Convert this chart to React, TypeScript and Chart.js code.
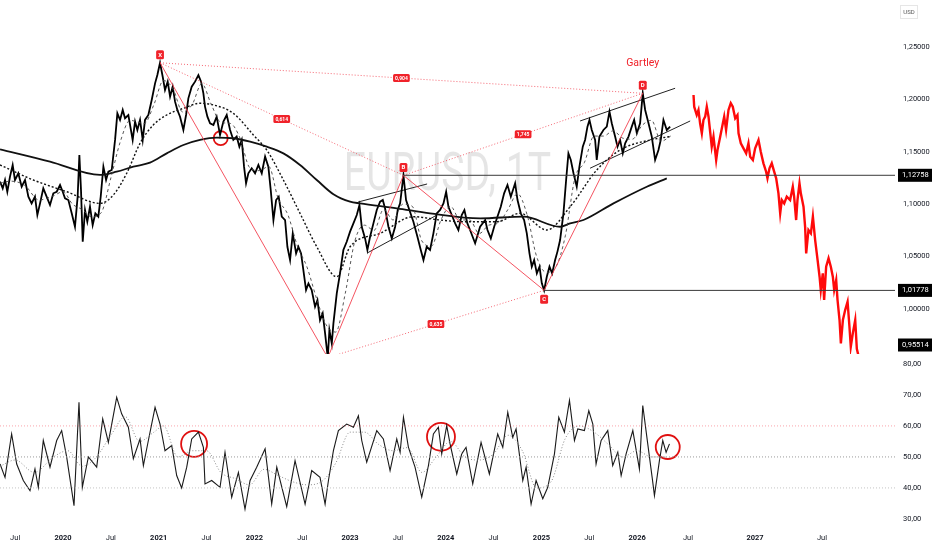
import { useEffect, useRef } from 'react';
import { Chart, registerables } from 'chart.js';

Chart.register(...registerables);

const FONT = 'Roboto, "Noto Sans", "DejaVu Sans", sans-serif';

// ---------- time axis (decimal years) ----------
// After the last traded bar TradingView's future area counts calendar days, so it is wider.
const LAST_BAR = 2026.42;
const FUTURE_STRETCH = 1.4;
const pos = (d: number) => (d <= LAST_BAR ? d : LAST_BAR + (d - LAST_BAR) * FUTURE_STRETCH);
const VIEW_START = 2019.3415;
const VIEW_END = 2028.045;

const timeTickDates = [2019.5, 2020, 2020.5, 2021, 2021.5, 2022, 2022.5, 2023, 2023.5, 2024, 2024.5, 2025, 2025.5, 2026, 2026.5, 2027, 2027.5];
const timeTickLabels = ['Jul', '2020', 'Jul', '2021', 'Jul', '2022', 'Jul', '2023', 'Jul', '2024', 'Jul', '2025', 'Jul', '2026', 'Jul', '2027', 'Jul'];

const priceTicks = [1.0, 1.05, 1.1, 1.15, 1.2, 1.25];
const rsiTicks = [30, 40, 50, 60, 70, 80];
const PRICE_MIN = 0.9571;
const PRICE_MAX = 1.2948;
const RSI_MIN = 27.4;
const RSI_MAX = 83.2;

// ---------- EURUSD daily ----------
const eurusd: [number, number][] = [
  [2019.342, 1.1215], [2019.37, 1.1151], [2019.394, 1.1231], [2019.418, 1.1119], [2019.446, 1.1263], [2019.474, 1.1374],
  [2019.498, 1.1231], [2019.533, 1.1295], [2019.568, 1.1167], [2019.603, 1.1231], [2019.638, 1.1072], [2019.672, 1.1008],
  [2019.707, 1.1072], [2019.732, 1.0897], [2019.76, 1.1008], [2019.794, 1.1151], [2019.829, 1.1072], [2019.864, 1.0992],
  [2019.899, 1.1104], [2019.934, 1.1119], [2019.969, 1.1183], [2019.997, 1.1119], [2020.021, 1.1056], [2020.056, 1.104],
  [2020.091, 1.0913], [2020.125, 1.0785], [2020.153, 1.1072], [2020.171, 1.1469], [2020.188, 1.1135], [2020.206, 1.0642],
  [2020.23, 1.0944], [2020.254, 1.0833], [2020.282, 1.0976], [2020.31, 1.0801], [2020.338, 1.0913], [2020.369, 1.0881],
  [2020.394, 1.1072], [2020.422, 1.1358], [2020.45, 1.1231], [2020.474, 1.131], [2020.509, 1.1326], [2020.544, 1.1613],
  [2020.568, 1.1867], [2020.596, 1.1804], [2020.624, 1.1899], [2020.648, 1.182], [2020.683, 1.1851], [2020.728, 1.1613],
  [2020.753, 1.1788], [2020.777, 1.1708], [2020.805, 1.1804], [2020.833, 1.1613], [2020.857, 1.1804], [2020.892, 1.1851],
  [2020.927, 1.1994], [2020.962, 1.2153], [2020.986, 1.2232], [2021.014, 1.2349], [2021.042, 1.2216], [2021.066, 1.2089],
  [2021.094, 1.2169], [2021.119, 1.2026], [2021.146, 1.2121], [2021.171, 1.1978], [2021.195, 1.1899], [2021.223, 1.1835],
  [2021.258, 1.1708], [2021.286, 1.1851], [2021.31, 1.201], [2021.345, 1.2121], [2021.38, 1.2169], [2021.415, 1.2232],
  [2021.443, 1.2169], [2021.467, 1.2058], [2021.484, 1.1931], [2021.509, 1.1835], [2021.537, 1.1772], [2021.572, 1.1756],
  [2021.606, 1.1835], [2021.641, 1.166], [2021.676, 1.1788], [2021.711, 1.1851], [2021.746, 1.1708], [2021.78, 1.1613],
  [2021.815, 1.1645], [2021.843, 1.1549], [2021.868, 1.1613], [2021.892, 1.1358], [2021.913, 1.1199], [2021.937, 1.1295],
  [2021.972, 1.1342], [2022.007, 1.1295], [2022.042, 1.1374], [2022.077, 1.1295], [2022.112, 1.1454], [2022.146, 1.1358],
  [2022.171, 1.1135], [2022.199, 1.0849], [2022.227, 1.104], [2022.254, 1.1072], [2022.286, 1.0881], [2022.321, 1.0849],
  [2022.345, 1.0594], [2022.373, 1.0467], [2022.401, 1.0721], [2022.436, 1.0531], [2022.46, 1.0594], [2022.488, 1.0531],
  [2022.512, 1.0372], [2022.54, 1.0181], [2022.565, 1.0244], [2022.599, 1.0181], [2022.634, 1.0022], [2022.659, 1.0085],
  [2022.686, 0.9894], [2022.714, 0.9958], [2022.739, 0.9767], [2022.767, 0.9536], [2022.784, 0.9799], [2022.809, 0.9672],
  [2022.826, 0.9863], [2022.861, 1.0149], [2022.895, 1.034], [2022.93, 1.0563], [2022.965, 1.0642], [2023.0, 1.0738],
  [2023.035, 1.0817], [2023.07, 1.0897], [2023.098, 1.0992], [2023.122, 1.0785], [2023.157, 1.0674], [2023.181, 1.0563],
  [2023.209, 1.069], [2023.244, 1.0817], [2023.279, 1.0945], [2023.314, 1.1024], [2023.342, 1.104], [2023.366, 1.096],
  [2023.401, 1.0785], [2023.436, 1.0674], [2023.471, 1.0785], [2023.498, 1.0945], [2023.523, 1.1008], [2023.558, 1.1275],
  [2023.585, 1.104], [2023.62, 1.0945], [2023.662, 1.0833], [2023.704, 1.069], [2023.739, 1.0563], [2023.767, 1.0467],
  [2023.801, 1.0594], [2023.836, 1.0563], [2023.871, 1.0722], [2023.906, 1.0912], [2023.941, 1.0945], [2023.976, 1.1008],
  [2024.004, 1.1119], [2024.028, 1.0976], [2024.063, 1.0897], [2024.098, 1.0817], [2024.132, 1.0754], [2024.167, 1.0897],
  [2024.195, 1.0945], [2024.226, 1.0817], [2024.254, 1.0754], [2024.307, 1.0627], [2024.359, 1.0785], [2024.412, 1.0849],
  [2024.436, 1.0754], [2024.471, 1.0674], [2024.506, 1.0785], [2024.54, 1.0881], [2024.575, 1.0976], [2024.61, 1.1104],
  [2024.645, 1.1183], [2024.68, 1.1072], [2024.725, 1.1199], [2024.75, 1.104], [2024.784, 1.0913], [2024.819, 1.0849],
  [2024.847, 1.0722], [2024.875, 1.0531], [2024.899, 1.0404], [2024.924, 1.0467], [2024.952, 1.034], [2024.98, 1.0404],
  [2025.004, 1.0245], [2025.028, 1.0178], [2025.056, 1.0308], [2025.084, 1.0404], [2025.112, 1.034], [2025.143, 1.0467],
  [2025.168, 1.055], [2025.195, 1.0658], [2025.23, 1.0913], [2025.258, 1.1231], [2025.282, 1.1485], [2025.307, 1.1422],
  [2025.335, 1.1295], [2025.369, 1.1167], [2025.397, 1.1358], [2025.432, 1.1549], [2025.456, 1.1613], [2025.481, 1.174],
  [2025.502, 1.1804], [2025.526, 1.1708], [2025.561, 1.1613], [2025.578, 1.1422], [2025.606, 1.1645], [2025.648, 1.1708],
  [2025.683, 1.174], [2025.711, 1.1883], [2025.735, 1.1772], [2025.77, 1.1645], [2025.795, 1.1549], [2025.822, 1.1613],
  [2025.85, 1.1485], [2025.875, 1.1581], [2025.91, 1.1645], [2025.944, 1.174], [2025.969, 1.1804], [2025.997, 1.1677],
  [2026.031, 1.1772], [2026.059, 1.2058], [2026.084, 1.1899], [2026.119, 1.1772], [2026.153, 1.1645], [2026.188, 1.1422],
  [2026.223, 1.1517], [2026.247, 1.1613], [2026.275, 1.1804], [2026.31, 1.1708], [2026.345, 1.174],
];

// projected path (red)
const projection: [number, number][] = [
  [2026.541, 1.2042], [2026.546, 1.193], [2026.565, 1.1851], [2026.578, 1.1899], [2026.59, 1.1772], [2026.603, 1.1676],
  [2026.615, 1.1803], [2026.628, 1.1835], [2026.64, 1.193], [2026.653, 1.1835], [2026.665, 1.1692], [2026.677, 1.1549],
  [2026.69, 1.1644], [2026.71, 1.1422], [2026.72, 1.1517], [2026.74, 1.1644], [2026.76, 1.1772], [2026.77, 1.1835],
  [2026.784, 1.1708], [2026.802, 1.1899], [2026.819, 1.1963], [2026.834, 1.193], [2026.852, 1.1819], [2026.869, 1.1851],
  [2026.877, 1.1676], [2026.894, 1.1581], [2026.914, 1.1533], [2026.934, 1.1485], [2026.951, 1.1581], [2026.964, 1.1453],
  [2026.984, 1.1422], [2027.001, 1.1533], [2027.026, 1.1613], [2027.043, 1.1501], [2027.063, 1.139], [2027.083, 1.131],
  [2027.093, 1.1247], [2027.108, 1.1342], [2027.125, 1.139], [2027.143, 1.131], [2027.158, 1.1247], [2027.175, 1.1104],
  [2027.188, 1.0913], [2027.2, 1.104], [2027.218, 1.1008], [2027.237, 1.1072], [2027.262, 1.104], [2027.282, 1.1167],
  [2027.292, 1.1072], [2027.307, 1.0849], [2027.317, 1.104], [2027.332, 1.1199], [2027.342, 1.1104], [2027.362, 1.0976],
  [2027.374, 1.0785], [2027.382, 1.0531], [2027.399, 1.0754], [2027.417, 1.0722], [2027.432, 1.0881], [2027.449, 1.0658],
  [2027.467, 1.0468], [2027.482, 1.0308], [2027.491, 1.0181], [2027.506, 1.034], [2027.516, 1.0086], [2027.531, 1.0404],
  [2027.549, 1.0484], [2027.566, 1.0404], [2027.581, 1.0308], [2027.591, 1.0181], [2027.606, 1.0276], [2027.616, 1.0086],
  [2027.631, 0.9895], [2027.641, 0.9673], [2027.656, 0.9895], [2027.673, 0.999], [2027.691, 1.007], [2027.705, 0.9831],
  [2027.715, 0.964], [2027.73, 0.9768], [2027.748, 0.9895], [2027.76, 0.962], [2027.773, 0.95514],
];

// moving averages
const ma200: [number, number][] = [
  [2019.342, 1.1523], [2019.864, 1.1406], [2020.387, 1.1279], [2020.561, 1.131], [2020.735, 1.1358], [2020.909, 1.1396],
  [2021.084, 1.1485], [2021.258, 1.1565], [2021.432, 1.1613], [2021.606, 1.1635], [2021.78, 1.1629], [2021.955, 1.1597],
  [2022.129, 1.1549], [2022.303, 1.1485], [2022.477, 1.1374], [2022.652, 1.1231], [2022.826, 1.1095], [2023.0, 1.1024],
  [2023.105, 1.1008], [2023.488, 1.0961], [2023.836, 1.0913], [2024.359, 1.0865], [2024.812, 1.0881], [2025.195, 1.0785],
  [2025.3, 1.0817], [2025.439, 1.0849], [2025.753, 1.1008], [2026.101, 1.1167], [2026.31, 1.1247],
];
const ma50: [number, number][] = [
  [2019.342, 1.1374], [2019.69, 1.1231], [2020.038, 1.1119], [2020.387, 1.1008], [2020.526, 1.1088], [2020.666, 1.1295],
  [2020.805, 1.1581], [2020.944, 1.1756], [2021.084, 1.1851], [2021.258, 1.1915], [2021.432, 1.1963], [2021.571, 1.1947],
  [2021.78, 1.1867], [2021.989, 1.1661], [2022.129, 1.1517], [2022.303, 1.1231], [2022.477, 1.0913], [2022.652, 1.0594],
  [2022.861, 1.0308], [2023.0, 1.0594], [2023.314, 1.0722], [2023.662, 1.0881], [2023.941, 1.0849], [2024.185, 1.0833],
  [2024.533, 1.0833], [2024.777, 1.0913], [2025.056, 1.0754], [2025.3, 1.0976], [2025.578, 1.1326], [2025.822, 1.1517],
  [2026.136, 1.1613], [2026.345, 1.1645],
];
const ma20: [number, number][] = [
  [2019.34, 1.12], [2019.45, 1.122], [2019.6, 1.118], [2019.75, 1.104], [2019.9, 1.108], [2020.0, 1.112], [2020.1, 1.1],
  [2020.2, 1.095], [2020.3, 1.088], [2020.4, 1.092], [2020.5, 1.125], [2020.6, 1.16], [2020.7, 1.18], [2020.85, 1.177],
  [2020.95, 1.195], [2021.05, 1.218], [2021.15, 1.21], [2021.25, 1.188], [2021.35, 1.195], [2021.45, 1.215], [2021.55, 1.195],
  [2021.65, 1.178], [2021.75, 1.177], [2021.85, 1.163], [2021.95, 1.135], [2022.05, 1.132], [2022.15, 1.136], [2022.25, 1.105],
  [2022.35, 1.09], [2022.45, 1.06], [2022.55, 1.04], [2022.65, 1.01], [2022.75, 0.985], [2022.85, 0.978], [2022.95, 1.015],
  [2023.05, 1.065], [2023.15, 1.08], [2023.25, 1.075], [2023.35, 1.095], [2023.45, 1.085], [2023.55, 1.1], [2023.65, 1.098],
  [2023.75, 1.065], [2023.85, 1.06], [2023.95, 1.085], [2024.05, 1.098], [2024.15, 1.085], [2024.25, 1.085], [2024.35, 1.072],
  [2024.45, 1.08], [2024.55, 1.082], [2024.65, 1.095], [2024.75, 1.11], [2024.85, 1.09], [2024.95, 1.05], [2025.05, 1.035],
  [2025.15, 1.04], [2025.25, 1.07], [2025.35, 1.125], [2025.45, 1.14], [2025.55, 1.165], [2025.65, 1.165], [2025.75, 1.17],
  [2025.85, 1.163], [2025.95, 1.162], [2026.05, 1.175], [2026.15, 1.18], [2026.25, 1.16], [2026.35, 1.165],
];

// Gartley pattern points X A B C D
const patternNames = ['X', 'A', 'B', 'C', 'D'];
const patternDates = [2021.014, 2022.767, 2023.558, 2025.028, 2026.059];
const patternPrices = [1.2349, 0.9536, 1.1275, 1.0178, 1.2058];
// ratio legs: [from index, to index, label]
const ratioLegs: [number, number, string][] = [
  [0, 2, '0,614'],
  [0, 4, '0,904'],
  [1, 3, '0,635'],
  [2, 4, '1,745'],
];

// trend lines
const trendLines: [number, number, number, number][] = [
  [2023.084, 1.1021, 2023.805, 1.1193],
  [2023.178, 1.0534, 2023.909, 1.0897],
  [2025.404, 1.1794, 2026.397, 1.2106],
  [2025.508, 1.1343, 2026.516, 1.1794],
];
const levelB = 1.12758;
const levelC = 1.01778;

// ---------- RSI ----------
const rsi: [number, number][] = [
  [2019.342, 47.7], [2019.394, 43.4], [2019.463, 57.4], [2019.516, 47.7], [2019.585, 42.4], [2019.655, 39.1], [2019.707, 46.1],
  [2019.742, 40.2], [2019.794, 55.3], [2019.864, 46.7], [2019.934, 55.3], [2019.986, 58.5], [2020.038, 50], [2020.115, 34.3],
  [2020.167, 67.6], [2020.202, 40.2], [2020.265, 50], [2020.352, 46.7], [2020.415, 62.3], [2020.474, 54.7], [2020.561, 69.2],
  [2020.613, 63.9], [2020.683, 59.6], [2020.735, 49.4], [2020.805, 55.8], [2020.84, 47.2], [2020.892, 55.3], [2020.962, 66],
  [2021.014, 60.6], [2021.066, 52], [2021.136, 53.7], [2021.188, 44], [2021.24, 40], [2021.293, 46.7], [2021.345, 55.8],
  [2021.415, 58], [2021.467, 53.1], [2021.484, 41.3], [2021.554, 42.4], [2021.641, 40.2], [2021.693, 51.5], [2021.763, 37],
  [2021.833, 45], [2021.902, 33.2], [2021.955, 42.4], [2022.024, 46.7], [2022.112, 52.6], [2022.181, 34.8], [2022.234, 46.7],
  [2022.338, 34], [2022.425, 48.8], [2022.53, 34.8], [2022.599, 45.6], [2022.686, 43.4], [2022.739, 34.8], [2022.774, 42.4],
  [2022.826, 52], [2022.878, 58.5], [2022.965, 60.6], [2023.035, 59.6], [2023.087, 63.3], [2023.122, 55.3], [2023.174, 48.3],
  [2023.279, 58.5], [2023.348, 55.8], [2023.418, 45.6], [2023.488, 55.8], [2023.523, 51.5], [2023.558, 62.8], [2023.61, 53.1],
  [2023.679, 46.7], [2023.749, 37], [2023.819, 47.2], [2023.871, 57.4], [2023.923, 59.6], [2023.958, 51], [2024.01, 60.1],
  [2024.045, 54.2], [2024.115, 44.5], [2024.167, 51], [2024.212, 53.1], [2024.282, 41.3], [2024.369, 54.7], [2024.456, 44.5],
  [2024.543, 57.4], [2024.596, 53.1], [2024.648, 64.4], [2024.7, 56.3], [2024.735, 59], [2024.805, 42.4], [2024.84, 46.7],
  [2024.892, 34.8], [2024.944, 42.4], [2025.014, 36.5], [2025.066, 40.2], [2025.136, 51], [2025.181, 62.8], [2025.24, 58],
  [2025.293, 68.2], [2025.345, 55.3], [2025.38, 59], [2025.449, 58.5], [2025.495, 64.9], [2025.537, 60.6], [2025.571, 47.7],
  [2025.624, 55.3], [2025.693, 58.5], [2025.745, 47.2], [2025.798, 51.5], [2025.833, 44], [2025.885, 51], [2025.955, 58.5],
  [2026.024, 46.1], [2026.059, 66.6], [2026.111, 54.2], [2026.157, 43.4], [2026.181, 37.5], [2026.233, 48.8], [2026.268, 55.3],
  [2026.303, 51.5], [2026.338, 54.2],
];
const rsiMa: [number, number][] = [
  [2019.34, 47], [2019.5, 49], [2019.7, 45], [2019.9, 50], [2020.05, 52], [2020.2, 47], [2020.35, 50], [2020.5, 57],
  [2020.65, 63], [2020.8, 55], [2020.95, 58], [2021.05, 60], [2021.2, 50], [2021.35, 52], [2021.5, 52], [2021.65, 45],
  [2021.8, 43], [2021.95, 41], [2022.1, 46], [2022.25, 44], [2022.4, 42], [2022.55, 41], [2022.7, 42], [2022.85, 48],
  [2023.0, 58], [2023.15, 58], [2023.3, 54], [2023.45, 52], [2023.6, 53], [2023.75, 45], [2023.9, 50], [2024.05, 55],
  [2024.2, 50], [2024.35, 49], [2024.5, 51], [2024.65, 57], [2024.8, 52], [2024.95, 40], [2025.1, 42], [2025.25, 56],
  [2025.4, 60], [2025.55, 58], [2025.7, 54], [2025.85, 50], [2026.0, 52], [2026.15, 50], [2026.3, 50],
];
const rsiLevels = [60, 50, 40];

// highlighted circles
const priceCircle: [number, number][] = [[2021.648, 1.163]];
const rsiCircles: [number, number][] = [[2021.37, 54.2], [2023.95, 56.5], [2026.32, 53.2]];

const RED = '#f0222a';

const toXY = (arr: [number, number][]) => arr.map(([d, v]) => ({ x: pos(d), y: v }));

export default function App() {
  const ref = useRef<HTMLCanvasElement>(null);

  useEffect(() => {
    const canvas = ref.current;
    if (!canvas) return;

    const line = (data: any[], color: string, width: number, dash: number[] = [], axis = 'y', smooth = false): any => ({
      type: 'line',
      data,
      borderColor: color,
      borderWidth: width,
      borderDash: dash,
      pointRadius: 0,
      fill: false,
      tension: smooth ? 0.4 : 0,
      cubicInterpolationMode: smooth ? 'monotone' : 'default',
      yAxisID: axis,
      xAxisID: 'x',
    });

    const pattern = patternDates.map((d, i) => ({ x: pos(d), y: patternPrices[i] }));
    const lastProj = projection[projection.length - 1][1];

    const datasets: any[] = [
      // RSI pane
      ...rsiLevels.map((lv, i) =>
        line([{ x: pos(VIEW_START), y: lv }, { x: pos(VIEW_END), y: lv }],
          i === 0 ? 'rgba(242,54,69,0.45)' : i === 1 ? '#9a9a9a' : '#c4c4c4', 1, [1, 2], 'y2')),
      line(toXY(rsiMa), '#8a8a8a', 1, [1, 2], 'y2', true),
      line(toXY(rsi), '#1a1a1a', 1.1, [], 'y2'),
      {
        type: 'line', data: toXY(rsiCircles), showLine: false, yAxisID: 'y2', xAxisID: 'x',
        pointRadius: [13, 14, 12], pointStyle: 'circle', pointBackgroundColor: 'rgba(0,0,0,0)',
        pointBorderColor: '#e01010', pointBorderWidth: 1.8,
      },
      // price pane
      line([{ x: pos(patternDates[2]), y: levelB }, { x: pos(VIEW_END), y: levelB }], '#3a3a3a', 1),
      line([{ x: pos(patternDates[3]), y: levelC }, { x: pos(VIEW_END), y: levelC }], '#3a3a3a', 1),
      ...ratioLegs.map(([a, b]) => line([pattern[a], pattern[b]], 'rgba(242,54,69,0.75)', 1, [1, 2])),
      line(pattern, 'rgba(242,54,69,0.85)', 1),
      line(toXY(ma20), '#444', 0.9, [3, 3], 'y', true),
      line(toXY(ma50), '#111', 1.4, [2, 2], 'y', true),
      line(toXY(ma200), '#111', 1.8, [], 'y', true),
      line(toXY(eurusd), '#000', 1.8),
      ...trendLines.map(([d1, v1, d2, v2]) => line([{ x: pos(d1), y: v1 }, { x: pos(d2), y: v2 }], '#222', 1)),
      line(toXY(projection), '#ff0a0a', 2.4),
      {
        type: 'line', data: toXY(priceCircle), showLine: false, yAxisID: 'y', xAxisID: 'x',
        pointRadius: 7, pointStyle: 'circle', pointBackgroundColor: 'rgba(0,0,0,0)',
        pointBorderColor: '#e01010', pointBorderWidth: 1.8,
      },
    ];

    const tag = (ctx: CanvasRenderingContext2D, text: string, cx: number, cy: number, size: number, bg: string) => {
      ctx.font = `bold ${size}px ${FONT}`;
      const w = ctx.measureText(text).width + 4;
      const h = size + 3;
      ctx.fillStyle = bg;
      ctx.beginPath();
      (ctx as any).roundRect(cx - w / 2, cy - h / 2, w, h, 1.5);
      ctx.fill();
      ctx.fillStyle = '#fff';
      ctx.textAlign = 'center';
      ctx.textBaseline = 'middle';
      ctx.fillText(text, cx, cy + 0.5);
    };

    const overlay = {
      id: 'overlay',
      beforeDatasetsDraw(chart: any) {
        const { ctx } = chart;
        const ys = chart.scales.y;
        const area = chart.chartArea;
        ctx.save();
        ctx.font = `53px ${FONT}`;
        ctx.fillStyle = 'rgba(0,0,0,0.1)';
        ctx.textAlign = 'center';
        ctx.textBaseline = 'middle';
        ctx.translate((area.left + area.right) / 2, (ys.top + ys.bottom) / 2);
        ctx.scale(0.74, 1);
        ctx.fillText('EURUSD, 1T', 0, 0);
        ctx.restore();
      },
      afterDatasetsDraw(chart: any) {
        const { ctx } = chart;
        const xs = chart.scales.x;
        const ys = chart.scales.y;
        const px = pattern.map((p) => ({ x: xs.getPixelForValue(p.x), y: ys.getPixelForValue(p.y) }));
        ctx.save();
        ctx.beginPath();
        ctx.rect(xs.left, ys.top, xs.right - xs.left, ys.bottom - ys.top);
        ctx.clip();
        ratioLegs.forEach(([a, b, label]) => {
          tag(ctx, label, (px[a].x + px[b].x) / 2, (px[a].y + px[b].y) / 2, 5, RED);
        });
        patternNames.forEach((n, i) => {
          const below = patternPrices[i] < patternPrices[i - 1 < 0 ? 1 : i - 1];
          tag(ctx, n, px[i].x, px[i].y + (below ? 9 : -8), 6, RED);
        });
        const d = px[4];
        ctx.font = `10.5px ${FONT}`;
        ctx.fillStyle = RED;
        ctx.textAlign = 'center';
        ctx.textBaseline = 'middle';
        ctx.fillText('Gartley', d.x, d.y - 30);
        ctx.restore();
      },
      afterDraw(chart: any) {
        const { ctx } = chart;
        const ys = chart.scales.y;
        const area = chart.chartArea;
        ctx.save();
        [levelB, levelC, lastProj].forEach((v) => {
          let y = ys.getPixelForValue(v);
          y = Math.min(Math.max(y, ys.top + 7), ys.bottom - 9);
          ctx.fillStyle = '#000';
          ctx.fillRect(area.right + 3, y - 6.5, 34, 13);
          ctx.fillStyle = '#fff';
          ctx.font = `7.5px ${FONT}`;
          ctx.textAlign = 'left';
          ctx.textBaseline = 'middle';
          ctx.fillText(v.toFixed(5).replace('.', ','), area.right + 7, y);
        });
        ctx.strokeStyle = '#e6e6e6';
        ctx.lineWidth = 1;
        ctx.strokeRect(area.right + 5.5, 5.5, 17, 13);
        ctx.fillStyle = '#555';
        ctx.font = `6px ${FONT}`;
        ctx.textAlign = 'center';
        ctx.textBaseline = 'middle';
        ctx.fillText('USD', area.right + 14, 12);
        ctx.restore();
      },
    };

    const chart = new Chart(canvas, {
      type: 'line',
      data: { datasets },
      plugins: [overlay],
      options: {
        responsive: false,
        animation: false,
        events: [],
        layout: { padding: 0, autoPadding: false },
        plugins: { legend: { display: false }, tooltip: { enabled: false } },
        scales: {
          x: {
            type: 'linear',
            min: pos(VIEW_START),
            max: pos(VIEW_END),
            grid: { display: false, drawTicks: false },
            border: { display: false },
            afterBuildTicks: (s: any) => {
              s.ticks = timeTickDates.map((d) => ({ value: pos(d) }));
            },
            afterFit: (s: any) => {
              s.height = 23;
              s.paddingLeft = 0;
              s.paddingRight = 0;
            },
            ticks: {
              autoSkip: false,
              maxRotation: 0,
              padding: 7,
              color: '#131722',
              font: (c: any) => ({ family: FONT, size: 7.5, weight: timeTickLabels[c.index] === 'Jul' ? 'normal' : 'bold' }),
              callback: (_v: any, i: number) => timeTickLabels[i],
            },
          },
          y: {
            type: 'linear',
            position: 'right',
            stack: 'panes',
            stackWeight: 354,
            min: PRICE_MIN,
            max: PRICE_MAX,
            grid: { display: false, drawTicks: false },
            border: { display: false },
            afterBuildTicks: (s: any) => {
              s.ticks = priceTicks.map((v) => ({ value: v }));
            },
            afterFit: (s: any) => {
              s.width = 37;
              s.paddingTop = 0;
              s.paddingBottom = 0;
            },
            ticks: {
              padding: 8,
              color: '#131722',
              font: { family: FONT, size: 7.5 },
              callback: (v: any) => Number(v).toFixed(5).replace('.', ','),
            },
          },
          y2: {
            type: 'linear',
            position: 'right',
            stack: 'panes',
            stackWeight: 173,
            min: RSI_MIN,
            max: RSI_MAX,
            grid: { display: false, drawTicks: false },
            border: { display: false },
            afterBuildTicks: (s: any) => {
              s.ticks = rsiTicks.map((v) => ({ value: v }));
            },
            afterFit: (s: any) => {
              s.width = 37;
              s.paddingTop = 0;
              s.paddingBottom = 0;
            },
            ticks: {
              padding: 8,
              color: '#131722',
              font: { family: FONT, size: 7.5 },
              callback: (v: any) => Number(v).toFixed(2).replace('.', ','),
            },
          },
        },
      } as any,
    });

    return () => chart.destroy();
  }, []);

  return (
    <div style={{ position: 'fixed', left: 0, top: 0, width: 932, height: 550, background: '#fff' }}>
      <canvas ref={ref} width={932} height={550} />
    </div>
  );
}
